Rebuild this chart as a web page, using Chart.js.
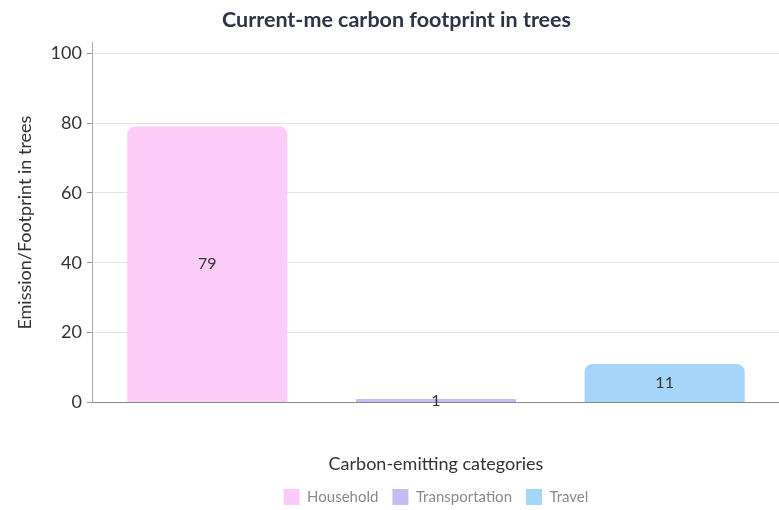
<!DOCTYPE html>
<html>
<head>
<meta charset="utf-8">
<script src="https://cdn.jsdelivr.net/npm/chart.js@4.4.1/dist/chart.umd.min.js"></script>
<style>
  html, body { margin: 0; padding: 0; background: #fff; }
  #wrap { width: 779px; height: 510px; position: relative; }
</style>
</head>
<body>
<div id="wrap"><canvas id="footprintChart"></canvas></div>
<script>
// ── Data ──
const categories = ['Household', 'Transportation', 'Travel'];
const footprint = [79, 1, 11];
const barColors = ['#fdcbf8', '#c8bbf3', '#a6d5fa'];
const yTicks = [0, 20, 40, 60, 80, 100];

const FONT = 'Lato, "Open Sans", sans-serif';

// draws the value in the middle of each bar
const centerLabels = {
  id: 'centerLabels',
  afterDatasetsDraw(chart) {
    const { ctx } = chart;
    ctx.save();
    ctx.font = '16px ' + FONT;
    ctx.fillStyle = '#333';
    ctx.textAlign = 'center';
    ctx.textBaseline = 'middle';
    chart.getDatasetMeta(0).data.forEach((bar, i) => {
      ctx.fillText(String(footprint[i]), bar.x, (bar.y + bar.base) / 2);
    });
    ctx.restore();
  }
};

new Chart(document.getElementById('footprintChart'), {
  type: 'bar',
  data: {
    labels: categories,
    datasets: [{
      label: 'Footprint',
      data: footprint,
      backgroundColor: barColors,
      borderRadius: { topLeft: 8, topRight: 8 },
      borderSkipped: 'bottom',
      barPercentage: 0.7,
      categoryPercentage: 1
    }]
  },
  options: {
    responsive: true,
    maintainAspectRatio: false,
    animation: false,
    layout: { padding: { left: 14, right: 0, top: 0, bottom: -5 } },
    plugins: {
      title: {
        display: true,
        text: 'Current-me carbon footprint in trees',
        color: '#2b3544',
        font: { family: FONT, size: 21.5, weight: 'bold' },
        padding: { top: 7, bottom: 10 }
      },
      legend: {
        position: 'bottom',
        fullSize: false,
        labels: {
          color: '#8a8a8a',
          font: { family: FONT, size: 15 },
          boxWidth: 16,
          boxHeight: 16,
          padding: 14,
          generateLabels: chart => chart.data.labels.map((l, i) => ({
            text: l,
            fillStyle: barColors[i],
            strokeStyle: barColors[i],
            lineWidth: 0,
            fontColor: '#8a8a8a',
            index: i
          }))
        }
      },
      tooltip: { enabled: false }
    },
    scales: {
      x: {
        grid: { display: false },
        border: { color: '#888' },
        ticks: { display: false },
        title: {
          display: true,
          text: 'Carbon-emitting categories',
          color: '#333',
          font: { family: FONT, size: 18 },
          padding: { top: 43, bottom: 0 }
        }
      },
      y: {
        min: 0,
        max: 103,
        afterBuildTicks: axis => { axis.ticks = yTicks.map(v => ({ value: v })); },
        grid: { color: '#e4e4e4', tickColor: '#999', tickLength: 6 },
        border: { color: '#aaa' },
        ticks: { color: '#333', font: { family: FONT, size: 18 }, padding: 5 },
        title: {
          display: true,
          text: 'Emission/Footprint in trees',
          color: '#333',
          font: { family: FONT, size: 18 },
          padding: { top: 0, bottom: 10 }
        }
      }
    }
  },
  plugins: [centerLabels]
});
</script>
</body>
</html>
